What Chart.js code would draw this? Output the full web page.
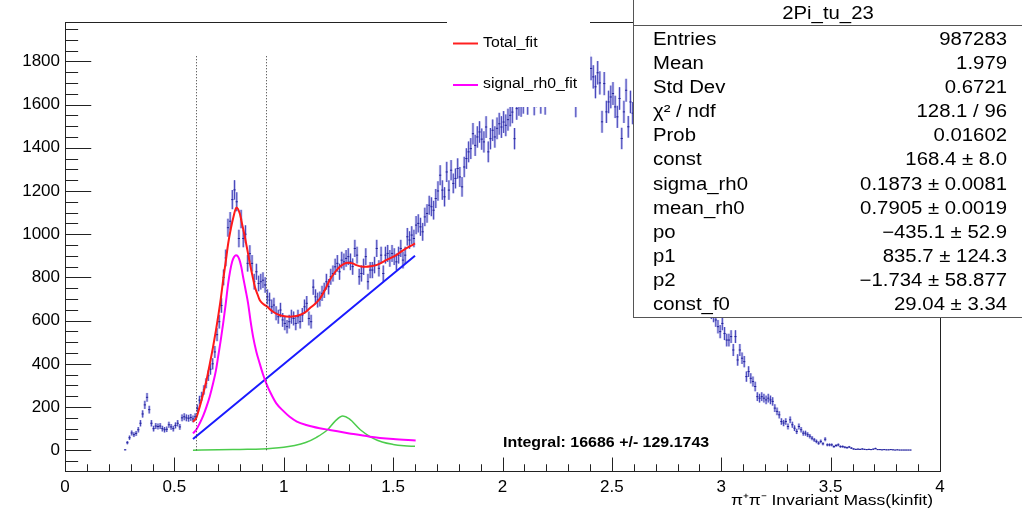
<!DOCTYPE html>
<html>
<head>
<meta charset="utf-8">
<script src="https://cdn.jsdelivr.net/npm/chart.js@4.4.1/dist/chart.umd.min.js"></script>
<style>
  html, body { margin: 0; padding: 0; background: #fff; }
</style>
</head>
<body>
<canvas id="chart" width="1022" height="516"></canvas>
<script>
/** HISTOGRAM DATA: pi+pi- invariant mass, 10 MeV bins */
const BIN_WIDTH = 0.01;
const FIRST_BIN = 0.275;
const ERR_SCALE = 1.3; // weighted entries -> error = 1.3 * sqrt(N)

const counts = [
    2, 35, 58, 80, 72, 78, 95, 125, 168, 210,                 // 0.275 - 0.365
    245, 188, 125, 100, 112, 110, 112, 100, 95, 97,           // 0.375 - 0.465
    118, 108, 100, 115, 125, 108, 150, 155, 150, 148,         // 0.475 - 0.565
    152, 145, 155, 194, 232, 250, 279, 310, 345, 375,         // 0.575 - 0.665
    400, 455, 535, 595, 670, 800, 890, 1030, 1060, 1160,      // 0.675 - 0.765
    1205, 1150, 980, 1070, 980, 1000, 865, 910, 865, 780,     // 0.775 - 0.865
    826, 772, 780, 787, 765, 710, 695, 664, 672, 634,         // 0.875 - 0.965
    618, 649, 603, 587, 572, 595, 618, 610, 587, 618,         // 0.975 - 1.065
    595, 626, 664, 680, 610, 595, 755, 710, 695, 700,         // 1.075 - 1.165
    726, 740, 780, 757, 803, 818, 849, 865, 826, 880,         // 1.175 - 1.265
    872, 888, 896, 872, 850, 934, 903, 803, 818, 849,         // 1.275 - 1.365
    896, 780, 834, 834, 857, 934, 842, 903, 818, 903,         // 1.375 - 1.465
    911, 888, 911, 896, 872, 903, 934, 880, 903, 988,         // 1.475 - 1.565
    973, 996, 980, 1042, 1050, 1034, 1011, 1080, 1096, 1134,  // 1.575 - 1.665
    1127, 1111, 1165, 1200, 1273, 1204, 1173, 1288, 1204, 1296, // 1.675 - 1.765
    1235, 1258, 1304, 1265, 1219, 1311, 1350, 1381, 1396, 1465, // 1.775 - 1.865
    1411, 1450, 1473, 1440, 1427, 1496, 1381, 1442, 1481, 1450, // 1.875 - 1.965
    1490, 1511, 1496, 1519, 1504, 1530, 1550, 1565, 1442, 1581, // 1.975 - 2.065
    1600, 1595, 1610, 1665, 1605, 1680, 1670, 1602, 1640, 1700, // 2.075 - 2.165
    1610, 1690, 1605, 1700, 1690, 1720, 1710, 1730, 1700, 1740, // 2.175 - 2.265
    1720, 1760, 1730, 1750, 1770, 1740, 1593, 1760, 1780, 1750, // 2.275 - 2.365
    1790, 1770, 1790, 1767, 1728, 1682, 1747, 1700, 1520, 1697, // 2.375 - 2.465
    1566, 1612, 1635, 1651, 1589, 1543, 1628, 1443, 1566, 1666, // 2.475 - 2.565
    1497, 1612, 1560, 1530, 1555, 1500, 1480, 1470, 1430, 1420, // 2.575 - 2.665
    1380, 1360, 1330, 1290, 1270, 1230, 1200, 1180, 1140, 1110, // 2.675 - 2.765
    1080, 1050, 1010, 990, 950, 930, 890, 870, 840, 810,      // 2.775 - 2.865
    790, 760, 740, 720, 700, 680, 670, 650, 640, 625,         // 2.875 - 2.965
    603, 572, 549, 587, 540, 510, 510, 526, 464, 526,         // 2.975 - 3.065
    418, 464, 426, 410, 341, 364, 333, 318, 295, 248,         // 3.075 - 3.165
    241, 248, 241, 233, 241, 233, 226, 195, 180, 164,         // 3.175 - 3.265
    133, 126, 133, 110, 141, 118, 102, 87, 110, 95,           // 3.275 - 3.365
    79, 79, 72, 65, 56, 48, 41, 33, 41, 30,                   // 3.375 - 3.465
    51, 25, 25, 25, 17, 22, 25, 17, 17, 14,                   // 3.475 - 3.565
    12, 15, 10, 6, 4, 5, 4, 6, 4, 3,                          // 3.575 - 3.665
    4, 3, 5, 8, 3, 3, 2, 3, 2, 2,                             // 3.675 - 3.765
    3, 2, 1, 2, 1, 1, 1, 1, 1, 1                              // 3.775 - 3.865
];

const masses = counts.map((_, i) => +(FIRST_BIN + i * BIN_WIDTH).toFixed(3));

/** FIT CURVES (mass, value) */
const totalFit = [
    [0.585, 132], [0.6, 150], [0.616, 202], [0.63, 255], [0.647, 325], [0.662, 400],
    [0.677, 479], [0.69, 555], [0.7, 618], [0.712, 700], [0.723, 788], [0.735, 875],
    [0.746, 957], [0.758, 1025], [0.77, 1080], [0.784, 1124], [0.799, 1096], [0.81, 1045],
    [0.822, 988], [0.834, 925], [0.845, 865], [0.857, 808], [0.868, 757], [0.88, 722],
    [0.89, 695], [0.905, 678], [0.92, 668], [0.951, 641], [0.975, 628], [0.997, 621],
    [1.027, 618], [1.05, 620], [1.073, 626], [1.1, 640], [1.119, 657], [1.14, 675],
    [1.164, 700], [1.19, 745], [1.21, 788], [1.235, 825], [1.256, 849], [1.275, 863],
    [1.294, 868], [1.315, 865], [1.332, 857], [1.355, 850], [1.377, 849], [1.4, 852],
    [1.423, 857], [1.445, 867], [1.468, 880], [1.49, 890], [1.514, 903], [1.535, 918],
    [1.559, 934], [1.58, 946], [1.6, 957]
];

const signalRho = [
    [0.585, 78], [0.6, 95], [0.616, 125], [0.632, 160], [0.647, 202], [0.662, 250],
    [0.677, 310], [0.69, 370], [0.7, 433], [0.712, 510], [0.723, 587], [0.735, 680],
    [0.746, 772], [0.755, 830], [0.764, 872], [0.772, 893], [0.781, 903], [0.79, 898],
    [0.798, 880], [0.806, 848], [0.814, 803], [0.825, 745], [0.837, 680], [0.848, 600],
    [0.86, 525], [0.875, 455], [0.89, 402], [0.905, 352], [0.92, 310], [0.94, 265],
    [0.966, 217], [1.0, 180], [1.027, 155], [1.06, 133], [1.103, 117], [1.164, 102],
    [1.21, 94], [1.3, 78], [1.393, 63], [1.5, 52], [1.603, 45]
];

const background = [[0.585, 52], [1.6, 900]];

const signalF0 = [
    [0.585, 0], [0.7, 2], [0.8, 4], [0.9, 6], [0.95, 9], [1.0, 14], [1.05, 22],
    [1.1, 36], [1.15, 60], [1.2, 95], [1.235, 135], [1.27, 158], [1.3, 145],
    [1.35, 95], [1.4, 60], [1.45, 38], [1.5, 27], [1.55, 21], [1.6, 18]
];

// mass window used for the integral
const windowEdges = [0.6, 0.92];
const windowTop = 1830;

const yTickValues = [0, 200, 400, 600, 800, 1000, 1200, 1400, 1600, 1800];

/** STATS BOX */
const statsTitle = "2Pi_tu_23";
const statLabels = ["Entries", "Mean", "Std Dev", "\u03c7\u00b2 / ndf", "Prob", "const",
    "sigma_rh0", "mean_rh0", "po", "p1", "p2", "const_f0"];
const statValues = ["987283", "1.979", "0.6721", "128.1 / 96", "0.01602", "168.4 \u00b1 8.0",
    "0.1873 \u00b1 0.0081", "0.7905 \u00b1 0.0019", "\u2212435.1 \u00b1 52.9", "835.7 \u00b1 124.3",
    "\u22121.734 \u00b1 58.877", "29.04 \u00b1 3.34"];

const integralText = "Integral: 16686 +/- 129.1743";
const xTitle = "\u03c0\u207a\u03c0\u207b Invariant Mass(kinfit)";

const FONT = "'Liberation Sans', Arial, Helvetica, sans-serif";
const STRETCH = 1.13;

function toPoints(pairs) {
    return pairs.map(p => ({ x: p[0], y: p[1] }));
}

function stretchedText(ctx, text, x, y, align, font, sx) {
    ctx.save();
    ctx.translate(x, y);
    ctx.scale(sx, 1);
    ctx.font = font;
    ctx.textAlign = align;
    ctx.textBaseline = 'middle';
    ctx.fillStyle = '#000';
    ctx.fillText(text, 0, 0);
    ctx.restore();
}

function hline(ctx, x1, x2, y) {
    ctx.moveTo(x1, Math.round(y) + 0.5);
    ctx.lineTo(x2, Math.round(y) + 0.5);
}

function vline(ctx, x, y1, y2) {
    ctx.moveTo(Math.round(x) + 0.5, y1);
    ctx.lineTo(Math.round(x) + 0.5, y2);
}

/** ROOT-STYLE DECORATIONS */
const rootStyle = {
    id: 'rootStyle',

    // error bars of the histogram, below the fit curves
    beforeDatasetsDraw(chart) {
        const ctx = chart.ctx;
        const area = chart.chartArea;
        const xs = chart.scales.x;
        const ys = chart.scales.y;
        const histIndex = chart.data.datasets.findIndex(d => d.label === 'hist');
        const meta = chart.getDatasetMeta(histIndex);

        ctx.save();
        ctx.beginPath();
        ctx.rect(area.left, area.top, area.right - area.left, area.bottom - area.top);
        ctx.clip();

        const passes = [
            { color: 'rgba(125,125,220,0.45)', width: 2.6 },
            { color: 'rgba(55,55,180,0.9)', width: 1 }
        ];
        passes.forEach(pass => {
            ctx.strokeStyle = pass.color;
            ctx.lineWidth = pass.width;
            ctx.beginPath();
            meta.data.forEach((pt, i) => {
                const v = counts[i];
                const err = ERR_SCALE * Math.sqrt(v);
                const top = ys.getPixelForValue(v + err);
                const bot = ys.getPixelForValue(v - err);
                ctx.moveTo(pt.x, top);
                ctx.lineTo(pt.x, bot);
            });
            ctx.stroke();
        });

        ctx.strokeStyle = 'rgba(35,35,155,1)';
        ctx.lineWidth = 1;
        ctx.beginPath();
        meta.data.forEach((pt, i) => {
            const l = xs.getPixelForValue(masses[i] - BIN_WIDTH / 2);
            const r = xs.getPixelForValue(masses[i] + BIN_WIDTH / 2);
            ctx.moveTo(l, pt.y);
            ctx.lineTo(r, pt.y);
        });
        ctx.stroke();
        ctx.restore();
    },

    afterDraw(chart) {
        const ctx = chart.ctx;
        const area = chart.chartArea;
        const xs = chart.scales.x;
        const ys = chart.scales.y;

        ctx.save();

        // dotted window lines
        ctx.strokeStyle = '#333';
        ctx.lineWidth = 1;
        ctx.setLineDash([1, 2]);
        ctx.beginPath();
        windowEdges.forEach(m => {
            vline(ctx, xs.getPixelForValue(m), ys.getPixelForValue(0), ys.getPixelForValue(windowTop));
        });
        ctx.stroke();
        ctx.setLineDash([]);

        // frame
        ctx.strokeStyle = '#222';
        ctx.beginPath();
        hline(ctx, area.left, area.right + 1, area.top);
        hline(ctx, area.left, area.right + 1, area.bottom);
        vline(ctx, area.left, area.top, area.bottom + 1);
        vline(ctx, area.right, area.top, area.bottom + 1);
        ctx.stroke();

        // y ticks inside the frame
        const yMajor = (area.right - area.left) * 0.03;
        ctx.beginPath();
        for (let v = -50; v <= 1950; v += 50) {
            const len = v % 200 === 0 ? yMajor : yMajor / 2;
            hline(ctx, area.left, area.left + len, ys.getPixelForValue(v));
        }
        // x ticks inside the frame
        const xMajor = (area.bottom - area.top) * 0.03;
        for (let k = 0; k <= 40; k++) {
            const len = k % 5 === 0 ? xMajor : xMajor / 2;
            vline(ctx, xs.getPixelForValue(k / 10), area.bottom, area.bottom - len);
        }
        ctx.stroke();

        // legend
        ctx.fillStyle = '#fff';
        ctx.fillRect(447, 8, 143, 99);
        ctx.lineWidth = 2;
        ctx.strokeStyle = '#ff2020';
        ctx.beginPath();
        ctx.moveTo(453, 43.5);
        ctx.lineTo(478, 43.5);
        ctx.stroke();
        ctx.strokeStyle = '#ff00ff';
        ctx.beginPath();
        ctx.moveTo(453, 85);
        ctx.lineTo(478, 85);
        ctx.stroke();
        stretchedText(ctx, 'Total_fit', 483, 43, 'left', '14px ' + FONT, STRETCH);
        stretchedText(ctx, 'signal_rh0_fit', 483, 84, 'left', '14px ' + FONT, STRETCH);

        // stats box
        const bx = 633.5, by = -1, bw = 400, bh = 318.5;
        ctx.fillStyle = '#fff';
        ctx.fillRect(bx, by, bw, bh);
        ctx.lineWidth = 1;
        ctx.strokeStyle = '#555';
        ctx.strokeRect(bx, by, bw, bh);
        ctx.beginPath();
        ctx.moveTo(bx, 25.5);
        ctx.lineTo(1022, 25.5);
        ctx.stroke();
        stretchedText(ctx, statsTitle, 828, 14, 'center', '18px ' + FONT, STRETCH);
        statLabels.forEach((label, i) => {
            const y = 40 + i * 24.1;
            stretchedText(ctx, label, 653, y, 'left', '18px ' + FONT, STRETCH);
            stretchedText(ctx, statValues[i], 1007, y, 'right', '18px ' + FONT, STRETCH);
        });

        // integral and axis title
        stretchedText(ctx, integralText, 503, 442.5, 'left', 'bold 14.5px ' + FONT, 1.1);
        stretchedText(ctx, xTitle, 933, 501, 'right', '15.5px ' + FONT, STRETCH);

        ctx.restore();
    }
};

const curveStyle = {
    showLine: true,
    pointRadius: 0,
    borderWidth: 2,
    fill: false,
    cubicInterpolationMode: 'monotone'
};

new Chart(document.getElementById('chart'), {
    type: 'scatter',
    data: {
        datasets: [
            Object.assign({ label: 'Total_fit', data: toPoints(totalFit), borderColor: '#ff1a1a' }, curveStyle),
            Object.assign({ label: 'signal_rh0_fit', data: toPoints(signalRho), borderColor: '#ff00ff' }, curveStyle),
            Object.assign({ label: 'background', data: toPoints(background), borderColor: '#1a1aff' }, curveStyle),
            Object.assign({ label: 'f0', data: toPoints(signalF0), borderColor: '#4ccc4c' }, curveStyle, { borderWidth: 1.5 }),
            {
                label: 'hist',
                data: masses.map((m, i) => ({ x: m, y: counts[i] })),
                pointRadius: 0,
                showLine: false
            }
        ]
    },
    options: {
        responsive: false,
        animation: false,
        devicePixelRatio: 1,
        layout: { padding: { left: 0, right: 82, top: 22, bottom: 0 } },
        plugins: {
            legend: { display: false },
            tooltip: { enabled: false }
        },
        scales: {
            x: {
                type: 'linear',
                min: 0,
                max: 4,
                border: { display: false },
                grid: { display: false, drawTicks: false },
                ticks: {
                    stepSize: 0.5,
                    padding: 6,
                    maxRotation: 0,
                    autoSkip: false,
                    color: '#000',
                    font: { family: FONT, size: 17 },
                    callback: v => String(v)
                },
                afterFit(scale) { scale.height = 45; }
            },
            y: {
                type: 'linear',
                min: -96,
                max: 1982,
                border: { display: false },
                grid: { display: false, drawTicks: false },
                afterBuildTicks(scale) {
                    scale.ticks = yTickValues.map(v => ({ value: v }));
                },
                ticks: {
                    padding: 5,
                    color: '#000',
                    font: { family: FONT, size: 17 },
                    callback: v => String(v)
                },
                afterFit(scale) { scale.width = 65; }
            }
        }
    },
    plugins: [rootStyle]
});
</script>
</body>
</html>
